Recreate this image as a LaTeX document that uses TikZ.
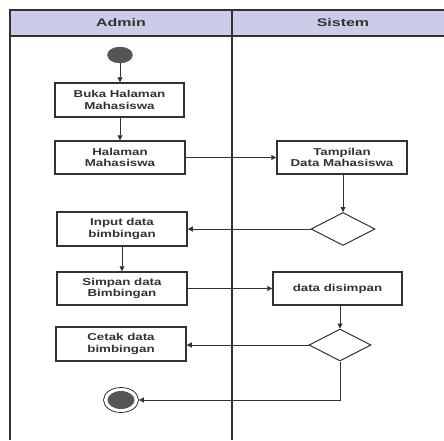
\documentclass[tikz,border=0pt]{standalone}
\usepackage{fontspec}
\usetikzlibrary{shapes.geometric,arrows.meta}
\newfontfamily\lbl[FakeStretch=1.33]{Liberation Sans}
\newfontfamily\hdr[FakeStretch=1.45]{Liberation Sans}
\definecolor{hdrfill}{RGB}{205,204,232}
\definecolor{ink}{RGB}{50,50,50}
\definecolor{dot}{RGB}{85,85,85}
\tikzset{
  act/.style={draw=ink, line width=1.5pt, minimum width=130pt, minimum height=33pt, inner sep=0pt,
     align=center, font=\lbl\bfseries\fontsize{10}{11.5}\selectfont, text=ink},
  dec/.style={diamond, draw=ink, line width=1pt, inner sep=0pt},
  flow/.style={draw=ink, line width=0.9pt, -{Triangle[length=5pt,width=5pt]}},
  lane/.style={draw=ink, line width=1.5pt},
  hd/.style={font=\hdr\bfseries\fontsize{11}{12}\selectfont, text=ink}
}
\begin{document}
\begin{tikzpicture}[x=1pt,y=-1pt]
\useasboundingbox[fill=white] (0,0) rectangle (444,440);
% header
\fill[hdrfill] (10,10) rectangle (444,36);
\draw[lane] (10,440) -- (10,10) -- (444,10);
\draw[lane] (10,36) -- (444,36);
\draw[lane] (232,10) -- (232,440);
\node[hd] (hA) at (121,23) {Admin};
\node[hd] (hS) at (343,23) {Sistem};
% nodes
\node[ellipse, fill=dot, draw=dot, minimum width=25pt, minimum height=16pt, inner sep=0pt] (start) at (120,55) {};
\node[act, minimum width=129pt, minimum height=34pt] (buka) at (119.5,100) {Buka Halaman\\Mahasiswa};
\node[act] (hal) at (120,157.5) {Halaman\\Mahasiswa};
\node[act] (tamp) at (342,157.5) {Tampilan\\Data Mahasiswa};
\node[dec, minimum width=64pt, minimum height=33pt] (d1) at (343,229) {};
\node[act, minimum height=34pt] (inp) at (122,229) {Input data\\bimbingan};
\node[act] (simp) at (122,288.5) {Simpan data\\Bimbingan};
\node[act, minimum width=129pt] (dis) at (337.5,288.5) {data disimpan};
\node[dec, minimum width=62pt, minimum height=32pt] (d2) at (340,345) {};
\node[act, minimum height=34pt] (cet) at (121,344) {Cetak data\\bimbingan};
\node[ellipse, draw=ink, line width=0.8pt, fill=white, minimum width=35pt, minimum height=25pt, inner sep=0pt] (end) at (121,400) {};
\node[ellipse, fill=dot, minimum width=27pt, minimum height=18pt, inner sep=0pt] (endin) at (end.center) {};
% flows
\draw[flow] (start.south) -- (buka.north -| start.south);
\draw[flow] (buka.south -| hal.north) -- (hal.north);
\draw[flow] (hal.east) -- (tamp.west);
\draw[flow] (tamp.south -| d1.north) -- (d1.north);
\draw[flow] (d1.west) -- (inp.east |- d1.west);
\draw[flow] (inp.south) -- (simp.north);
\draw[flow] (simp.east) -- (dis.west);
\draw[flow] (dis.south -| d2.north) -- (d2.north);
\draw[flow] (d2.west) -- (cet.east |- d2.west);
\draw[flow] (d2.south) |- (end.east);
\end{tikzpicture}
\end{document}
